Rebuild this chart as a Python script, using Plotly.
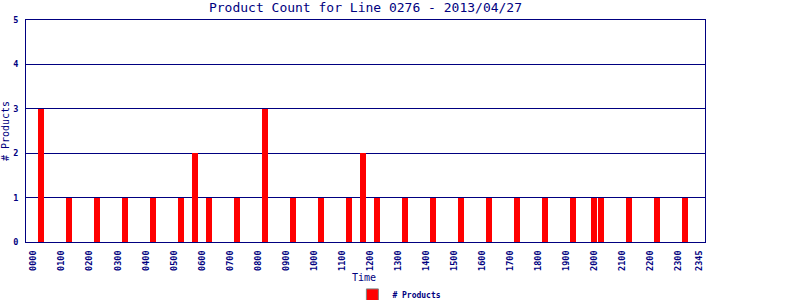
import plotly.graph_objects as go

# Data
times = ["0015", "0115", "0215", "0315", "0415", "0515", "0545", "0615", "0715",
         "0815", "0915", "1015", "1115", "1145", "1215", "1315", "1415", "1515",
         "1615", "1715", "1815", "1915", "2000", "2015", "2115", "2215", "2315"]
counts = [3, 1, 1, 1, 1, 1, 2, 1, 1,
          3, 1, 1, 1, 2, 1, 1, 1, 1,
          1, 1, 1, 1, 1, 1, 1, 1, 1]
tick_labels = ["0000", "0100", "0200", "0300", "0400", "0500", "0600", "0700",
               "0800", "0900", "1000", "1100", "1200", "1300", "1400", "1500",
               "1600", "1700", "1800", "1900", "2000", "2100", "2200", "2300", "2345"]
y_ticks = [0, 1, 2, 3, 4, 5]


def slot(t):
    return int(t[:2]) * 4 + int(t[2:]) // 15


NAVY = "#000080"
FONT = "DejaVu Sans Mono"

fig = go.Figure()
fig.add_trace(go.Bar(
    x=[slot(t) for t in times], y=counts, width=0.86,
    marker=dict(color="#FF0000", line=dict(width=0)),
    showlegend=False, name="# Products",
))
fig.add_trace(go.Bar(
    x=[None], y=[None], name="# Products",
    marker=dict(color="#FF0000", line=dict(color="#808080", width=1)),
    showlegend=True,
))

fig.update_layout(
    width=800, height=300,
    margin=dict(l=26, r=95, t=20, b=58, autoexpand=False),
    paper_bgcolor="white", plot_bgcolor="white",
    title=dict(text="Product Count for Line 0276 - 2013/04/27",
               font=dict(family=FONT, size=13, color=NAVY),
               x=0.5, xref="paper", xanchor="center",
               y=0.976, yref="container", yanchor="middle", automargin=False),
    bargap=0,
    legend=dict(orientation="h", x=0.4405, xref="container", xanchor="left",
                y=0.017, yref="container", yanchor="middle",
                font=dict(family=FONT, size=8, color=NAVY, weight="bold"),
                itemwidth=30, tracegroupgap=0, borderwidth=0),
    xaxis=dict(
        range=[-1.1, 95.85], automargin=False,
        tickvals=[slot(t) for t in tick_labels], ticktext=tick_labels,
        tickangle=-90, tickfont=dict(family=FONT, size=8.5, color=NAVY, weight="bold"),
        showgrid=False, zeroline=False,
        showline=True, linecolor=NAVY, linewidth=1, mirror=True,
        ticks="", ticklabelstandoff=4,
    ),
    yaxis=dict(
        range=[0, 5], tickvals=y_ticks, automargin=False,
        tickfont=dict(family=FONT, size=8.5, color=NAVY, weight="bold"),
        showgrid=True, gridcolor=NAVY, gridwidth=1, zeroline=False,
        showline=True, linecolor=NAVY, linewidth=1, mirror=True,
        ticks="", ticklabelstandoff=5,
        title=dict(text="# Products", font=dict(family=FONT, size=10, color=NAVY),
                   standoff=1),
    ),
    annotations=[dict(text="Time", xref="paper", yref="paper", x=0.498, y=-0.162,
                      xanchor="center", yanchor="middle", showarrow=False,
                      font=dict(family=FONT, size=10, color=NAVY))],
)

fig.write_html("out.html")
